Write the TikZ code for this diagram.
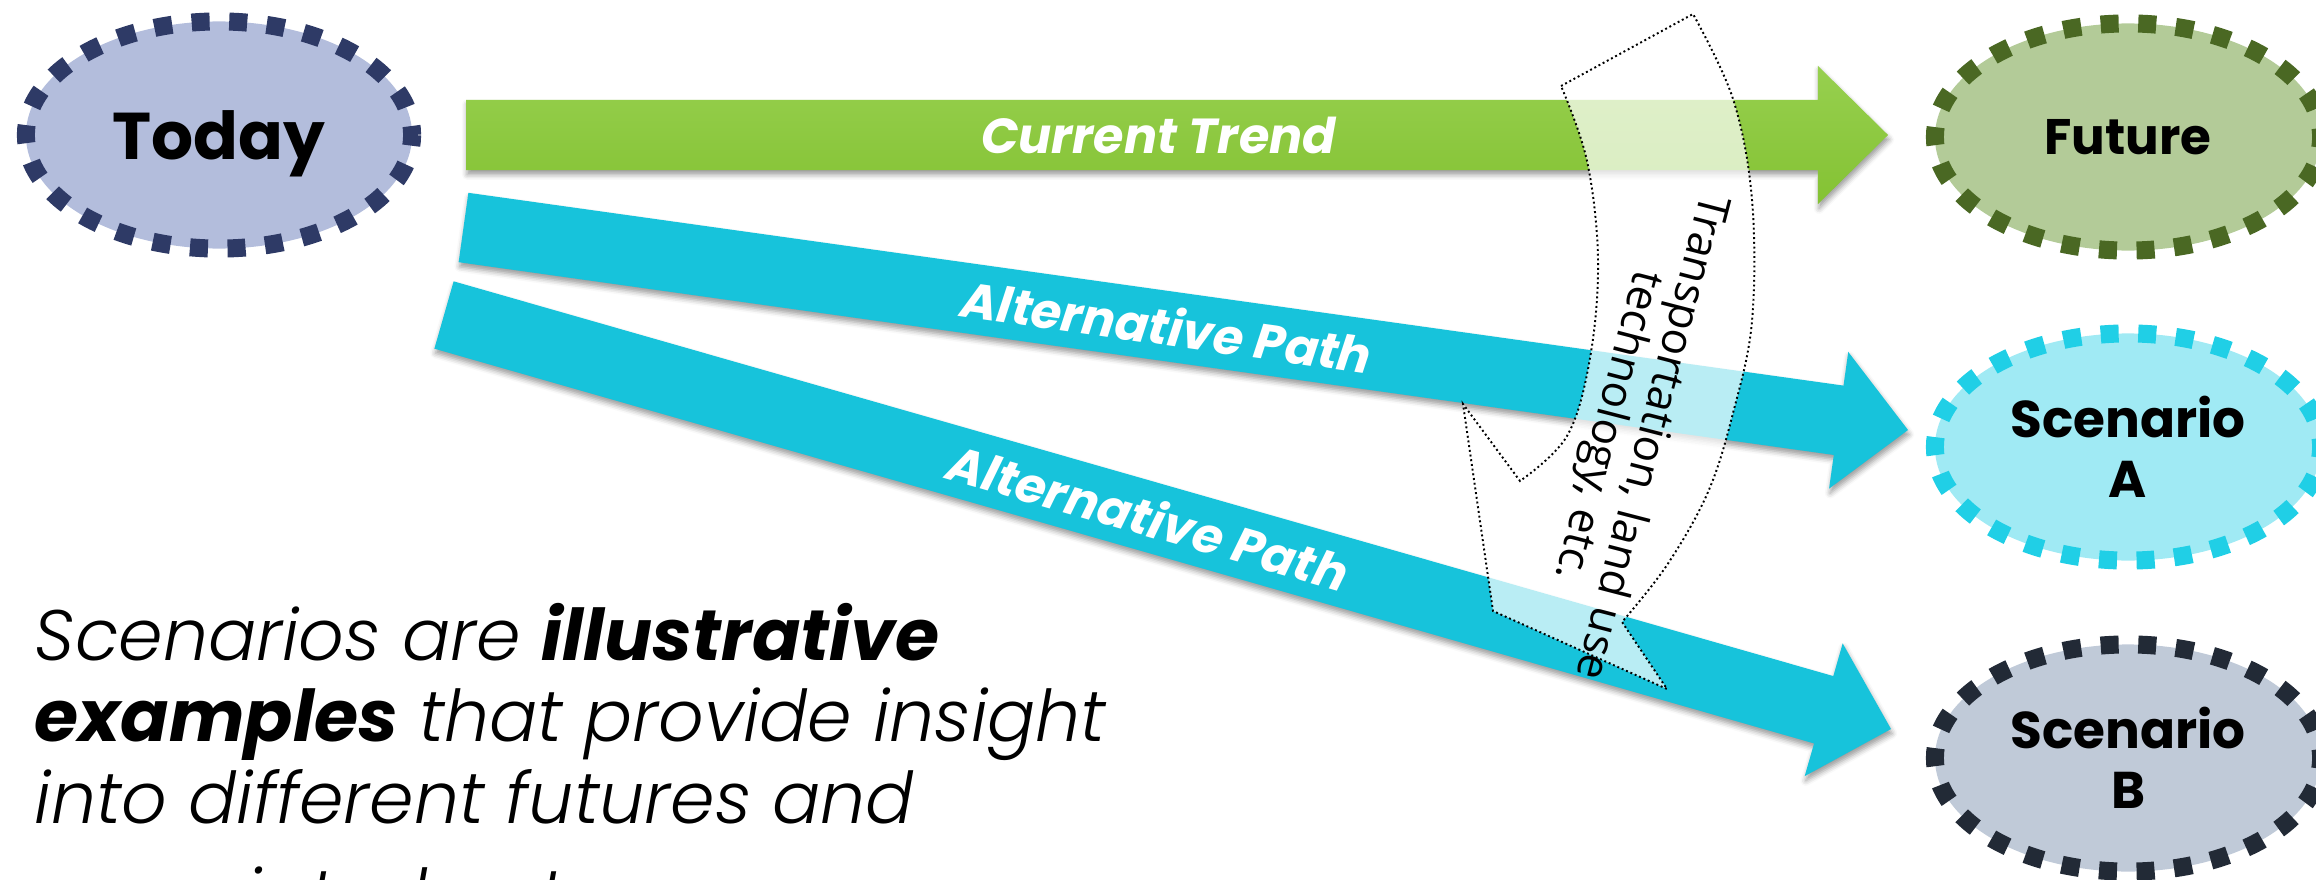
\documentclass[tikz,border=0pt]{standalone}
\usepackage{fontspec}
\setmainfont{Poppins}
\newfontfamily\notefont{Poppins}[UprightFont=* Light, ItalicFont=* Light Italic, BoldFont=* Bold, BoldItalicFont=* Bold Italic]
\newfontfamily\bendfont{Open Sans}
\usetikzlibrary{calc,shapes.geometric,shadows.blur}
\definecolor{todayfill}{HTML}{B3BDDC}
\definecolor{todaydash}{HTML}{2E3A66}
\definecolor{futurefill}{HTML}{B3CB98}
\definecolor{futuredash}{HTML}{4A6823}
\definecolor{scenAfill}{HTML}{A0EAF4}
\definecolor{scenAdash}{HTML}{20CFE6}
\definecolor{scenBfill}{HTML}{C0CAD8}
\definecolor{scenBdash}{HTML}{222A36}
\definecolor{trendtop}{HTML}{97D04F}
\definecolor{trendbot}{HTML}{84C233}
\definecolor{pathmid}{HTML}{17C3DB}
\tikzset{
  oval/.style 2 args={ellipse, fill=#1, draw=#2, line width=0.18cm,
    dash pattern=on 0.18cm off 0.196cm, dash phase=0.09cm,
    minimum width=3.86cm, minimum height=2.27cm, inner sep=0pt,
    align=center, text depth=0pt},
  trendgreen/.style={top color=trendtop, bottom color=trendbot},
  pathblue/.style={fill=pathmid},
  arrowlabel/.style={text=white, inner sep=0pt,
    font=\bfseries\itshape\fontsize{14}{16}\selectfont},
  bendshape/.style={fill=white, fill opacity=0.7, draw=black, line width=0.55pt,
    dash pattern=on 0.55pt off 0.8pt},
  bendtext/.style={align=center, inner sep=0pt,
    font=\bendfont\fontsize{12.5}{12.8}\selectfont},
  notetext/.style={anchor=base west, inner sep=0pt,
    font=\notefont\itshape\fontsize{20.3}{23}\selectfont}
}
\begin{document}
\begin{tikzpicture}[x=0.01cm, y=-0.01cm]
\useasboundingbox (0,0) rectangle (2316,879);
\clip (0,0) rectangle (2316,879);
% start and end states
\node[oval={todayfill}{todaydash}, font=\bfseries\fontsize{18.8}{22}\selectfont] (today) at (219,135) {Today};
\node[oval={futurefill}{futuredash}, font=\bfseries\fontsize{14.2}{16}\selectfont] (future) at (2128,137) {Future};
\node[oval={scenAfill}{scenAdash}, font=\bfseries\fontsize{14.7}{17}\selectfont] (scenA) at (2128,447) {Scenario\\A};
\node[oval={scenBfill}{scenBdash}, font=\bfseries\fontsize{14.7}{17}\selectfont] (scenB) at (2128,758) {Scenario\\B};
% block arrows
\foreach \n/\a/\b/\c/\t in {trend/{466,135}/{1888,135}/trendgreen/Current Trend,
    pathA/{463.5,227.5}/{1908,430}/pathblue/Alternative Path,
    pathB/{444,315}/{1891,729}/pathblue/Alternative Path}{
  \coordinate (\n-tail) at (\a);
  \coordinate (\n-tip) at (\b);
  \coordinate (\n-neck) at ($(\n-tip)!0.7cm!(\n-tail)$);
  \path[\c, blur shadow={shadow xshift=0.3pt, shadow yshift=-1.3pt, shadow blur radius=1.5pt, shadow opacity=40}]
    ($(\n-tail)!0.35cm!90:(\n-tip)$) -- ($(\n-neck)!0.35cm!90:(\n-tip)$)
    -- ($(\n-neck)!0.69cm!90:(\n-tip)$) -- (\n-tip)
    -- ($(\n-neck)!0.69cm!-90:(\n-tip)$) -- ($(\n-neck)!0.35cm!-90:(\n-tip)$)
    -- ($(\n-tail)!0.35cm!-90:(\n-tip)$) -- cycle;
  \path (\n-tail) -- (\n-tip) node[arrowlabel, pos=0.487, sloped] (\n-label) {\t};
}
% curved arrow over the paths
\draw[bendshape] (1561,86) -- (1693,14)
  -- plot[smooth, tension=0.6] coordinates {(1693,14) (1733,99) (1752,200) (1752,321) (1733,413) (1708,492) (1667,565) (1622,622)}
  -- (1667,689) -- (1493,611) -- (1463,404) -- (1520,481)
  -- plot[smooth, tension=0.6] coordinates {(1520,481) (1567,436) (1590,358) (1598,260) (1587,161) (1561,86)}
  -- cycle;
\node[bendtext, rotate=-104.5] (bendlabel) at (1628,431) {Transportation, land use\\technology, etc.};
% note
\foreach \t/\y in {{Scenarios are \textbf{illustrative}}/660, {\textbf{examples} that provide insight}/741.5, {into different futures and}/823, {associated outcomes}/920}
  \node[notetext] (note\y) at (34,\y) {\t};
\end{tikzpicture}
\end{document}
